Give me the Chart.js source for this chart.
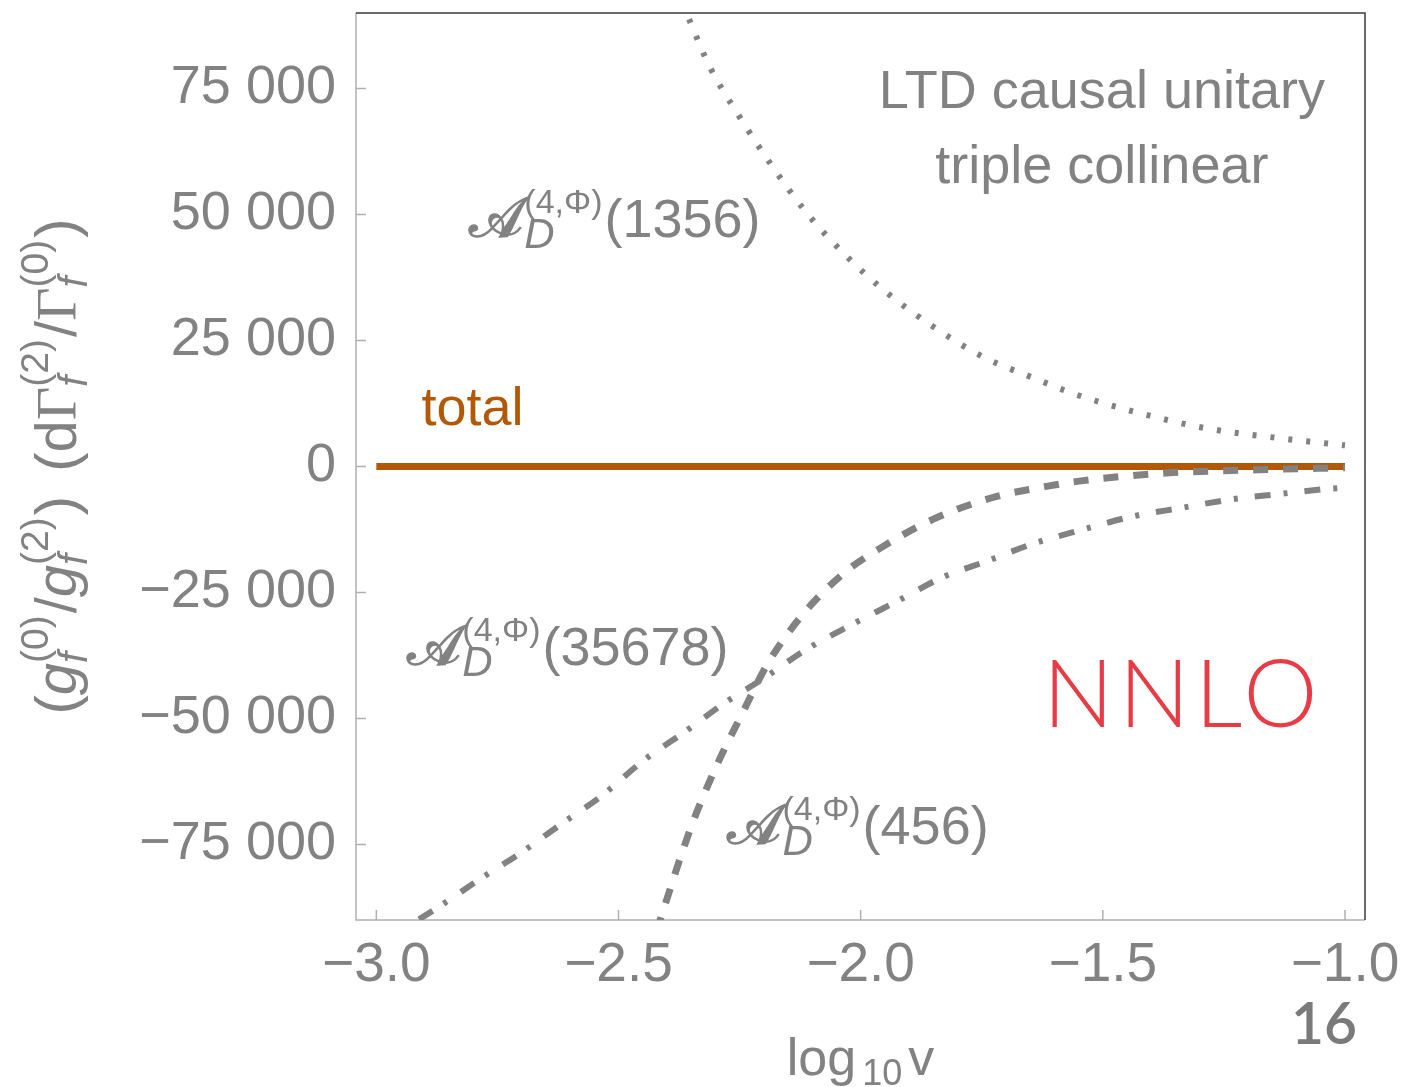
<!DOCTYPE html>
<html>
<head>
<meta charset="utf-8">
<script src="https://cdn.jsdelivr.net/npm/chart.js@4/dist/chart.umd.min.js"></script>
<style>
  html, body { margin: 0; padding: 0; background: #fff; }
  #wrap { width: 1411px; height: 1087px; position: relative; }
</style>
</head>
<body>
<div id="wrap"><canvas id="c"></canvas></div>
<script>
// ---- axis settings ----
const xTicks = [-3.0, -2.5, -2.0, -1.5, -1.0];
const yTicks = [-75000, -50000, -25000, 0, 25000, 50000, 75000];
const xRange = [-3.042, -0.9587];
const yRange = [-90000, 90000];

// ---- series: log10 v and value ----
const totalX = [-3.0, -2.5, -2.0, -1.5, -1.0];
const totalY = [0, 0, 0, 0, 0];

// A_D^(4,Phi)(1356), dotted
const a1356X = [-2.40, -2.36, -2.312, -2.25, -2.182, -2.112, -2.029, -1.946, -1.851, -1.748, -1.636, -1.562, -1.444, -1.293, -1.134, -1.0];
const a1356Y = [98500, 90000, 79400, 69400, 59500, 50400, 41700, 34500, 27800, 21800, 17300, 14500, 11100, 7700, 5600, 4200];

// A_D^(4,Phi)(456), dashed
const a456X = [-2.44, -2.409, -2.35, -2.298, -2.244, -2.19, -2.112, -2.030, -1.961, -1.851, -1.729, -1.62, -1.541, -1.45, -1.355, -1.25, -1.161, -1.0];
const a456Y = [-98000, -88500, -71500, -59500, -48900, -38800, -28500, -20800, -16300, -10500, -6200, -4000, -2800, -1900, -1200, -850, -600, -250];

// A_D^(4,Phi)(35678), dash-dotted
const a35678X = [-3.0, -2.871, -2.785, -2.699, -2.616, -2.534, -2.448, -2.368, -2.285, -2.198, -2.112, -2.017, -1.926, -1.831, -1.740, -1.643, -1.541, -1.438, -1.337, -1.233, -1.130, -1.031, -1.0];
const a35678Y = [-95000, -87400, -81800, -76500, -70800, -65300, -58300, -53000, -47200, -41900, -36300, -31300, -26800, -22000, -18800, -15300, -12500, -9900, -8200, -6500, -5400, -4400, -4200];

const GRAY = '#828282';
const ORANGE = '#b35806';
const RED = '#e63c46';
const SANS = '"Liberation Sans", Arial, Helvetica, sans-serif';
const SERIF = '"Liberation Serif", "Times New Roman", serif';
const MATH = '"DejaVu Serif", "DejaVu Sans", "Noto Sans", serif';

const pts = (xs, ys) => xs.map((x, i) => ({ x, y: ys[i] }));

// ---- rich text helpers (sub/superscripts) ----
function widthOf(ctx, q) {
  ctx.font = q.f;
  ctx.letterSpacing = q.ls || '0px';
  const w = ctx.measureText(q.t).width;
  ctx.letterSpacing = '0px';
  return w;
}
function partWidth(ctx, p) {
  if (p.stack) return Math.max(...p.stack.map(q => widthOf(ctx, q))) + (p.gap || 0);
  return widthOf(ctx, p) + (p.gap || 0);
}
function drawRich(ctx, parts, x, y, align, color) {
  const w = parts.reduce((s, p) => s + partWidth(ctx, p), 0);
  let cx = align === 'center' ? x - w / 2 : align === 'right' ? x - w : x;
  ctx.fillStyle = color;
  ctx.strokeStyle = color;
  ctx.textBaseline = 'alphabetic';
  ctx.textAlign = 'left';
  for (const p of parts) {
    const items = p.stack || [p];
    for (const q of items) {
      ctx.font = q.f;
      ctx.letterSpacing = q.ls || '0px';
      ctx.fillText(q.t, cx, y + (q.dy || 0));
      if (q.bold) { ctx.lineWidth = q.bold; ctx.strokeText(q.t, cx, y + (q.dy || 0)); }
      ctx.letterSpacing = '0px';
    }
    cx += partWidth(ctx, p);
  }
}

function ampLabel(num) {
  return [
    { t: '\u{1D49C}', f: `57px ${MATH}`, gap: 1, bold: 1.6 },
    { stack: [ { t: 'D', f: `italic 42px ${SANS}`, dy: 11 }, { t: '(4,\u03A6)', f: `34px ${SANS}`, dy: -24 } ], gap: 2 },
    { t: '(' + num + ')', f: `54px ${SANS}` }
  ];
}

const mf = `58px ${SANS}`, mi = `italic 58px ${SANS}`, si = `italic 40px ${SANS}`, su = `39px ${SANS}`, gm = `58px ${SERIF}`;
const fs = (top) => ({ stack: [ { t: 'f', f: si, dy: 11 }, { t: top, f: su, dy: -28 } ], gap: 2 });
const yTitle = [
  { t: '(', f: mf }, { t: 'g', f: mi }, fs('(0)'), { t: '/', f: mf }, { t: 'g', f: mi }, fs('(2)'), { t: ')', f: mf },
  { t: ' ', f: mf, gap: 8 },
  { t: '(', f: mf }, { t: 'd', f: mf }, { t: '\u0393', f: gm }, fs('(2)'), { t: '/', f: mf }, { t: '\u0393', f: gm }, fs('(0)'), { t: ')', f: mf }
];
const xTitle = [
  { t: 'log', f: `52px ${SANS}`, gap: 6 }, { t: '10', f: `36px ${SANS}`, dy: 10, gap: 6 }, { t: 'v', f: `52px ${SANS}` }
];

// frame, inward tick marks
const framePlugin = {
  id: 'frame',
  beforeDatasetsDraw(chart) {
    const { ctx, chartArea: a, scales: { x, y } } = chart;
    ctx.save();
    ctx.lineWidth = 1.5;
    ctx.strokeStyle = '#b0b0b0';
    ctx.beginPath();
    ctx.moveTo(a.left, a.top); ctx.lineTo(a.left, a.bottom); ctx.lineTo(a.right, a.bottom);
    for (const v of xTicks) { const px = x.getPixelForValue(v); ctx.moveTo(px, a.bottom); ctx.lineTo(px, a.bottom - 10); }
    for (const v of yTicks) { const py = y.getPixelForValue(v); ctx.moveTo(a.left, py); ctx.lineTo(a.left + 10, py); }
    ctx.stroke();
    ctx.strokeStyle = '#3a3a3a';
    ctx.beginPath();
    ctx.moveTo(a.left, a.top); ctx.lineTo(a.right, a.top); ctx.lineTo(a.right, a.bottom);
    ctx.stroke();
    ctx.restore();
  }
};

// annotations and axis titles
const notesPlugin = {
  id: 'notes',
  afterDraw(chart) {
    const { ctx, chartArea: a, scales: { x, y } } = chart;
    ctx.save();
    drawRich(ctx, [{ t: 'LTD causal unitary', f: `54px ${SANS}` }], x.getPixelForValue(-1.502), y.getPixelForValue(71200), 'center', GRAY);
    drawRich(ctx, [{ t: 'triple collinear', f: `54px ${SANS}` }], x.getPixelForValue(-1.502), y.getPixelForValue(56300), 'center', GRAY);
    drawRich(ctx, [{ t: 'total', f: `54px ${SANS}` }], x.getPixelForValue(-2.907), y.getPixelForValue(8300), 'left', ORANGE);
    drawRich(ctx, ampLabel('1356'), x.getPixelForValue(-2.808), y.getPixelForValue(45600), 'left', GRAY);
    drawRich(ctx, ampLabel('35678'), x.getPixelForValue(-2.936), y.getPixelForValue(-39300), 'left', GRAY);
    drawRich(ctx, ampLabel('456'), x.getPixelForValue(-2.275), y.getPixelForValue(-75000), 'left', GRAY);
    drawRich(ctx, [{ t: 'NNLO', f: `300 94px Lato, ${SANS}`, ls: '5px' }], x.getPixelForValue(-1.335), y.getPixelForValue(-51600), 'center', RED);
    drawRich(ctx, [{ t: '16', f: `600 57px Lato, ${SANS}` }], a.right - 8, a.bottom + 124, 'right', '#7a7a7a');
    drawRich(ctx, xTitle, (a.left + a.right) / 2, a.bottom + 155, 'center', GRAY);
    ctx.translate(76, (a.top + a.bottom) / 2);
    ctx.rotate(-Math.PI / 2);
    drawRich(ctx, yTitle, 0, 0, 'center', GRAY);
    ctx.restore();
  }
};

const common = { pointRadius: 0, fill: false, clip: 0, cubicInterpolationMode: 'monotone', borderCapStyle: 'butt' };

new Chart(document.getElementById('c'), {
  type: 'line',
  data: {
    datasets: [
      { ...common, label: '1356', data: pts(a1356X, a1356Y), borderColor: GRAY, borderWidth: 6, borderDash: [4, 14] },
      { ...common, label: '456', data: pts(a456X, a456Y), borderColor: GRAY, borderWidth: 7, borderDash: [15, 15] },
      { ...common, label: '35678', data: pts(a35678X, a35678Y), borderColor: GRAY, borderWidth: 6, borderDash: [16, 13, 4, 17] },
      { ...common, label: 'total', data: pts(totalX, totalY), borderColor: ORANGE, borderWidth: 7 }
    ]
  },
  options: {
    responsive: true,
    maintainAspectRatio: false,
    animation: false,
    layout: { padding: { top: 13, right: 46, left: 0, bottom: 0 } },
    plugins: { legend: { display: false }, tooltip: { enabled: false } },
    scales: {
      x: {
        type: 'linear', min: xRange[0], max: xRange[1],
        afterBuildTicks: s => { s.ticks = xTicks.map(v => ({ value: v })); },
        afterFit: s => { s.height = 167; s.paddingLeft = 0; s.paddingRight = 0; },
        grid: { display: false, drawTicks: false }, border: { display: false },
        ticks: {
          color: GRAY, padding: 13, font: { family: SANS, size: 55 }, maxRotation: 0,
          callback: v => (v < 0 ? '\u2212' : '') + Math.abs(v).toFixed(1)
        }
      },
      y: {
        type: 'linear', min: yRange[0], max: yRange[1],
        afterBuildTicks: s => { s.ticks = yTicks.map(v => ({ value: v })); },
        afterFit: s => { s.width = 356; s.paddingTop = 0; s.paddingBottom = 0; },
        grid: { display: false, drawTicks: false }, border: { display: false },
        ticks: {
          color: GRAY, padding: 20, font: { family: SANS, size: 54 },
          callback: v => {
            const a = Math.abs(v);
            const s = a >= 1000 ? Math.floor(a / 1000) + ' ' + String(a % 1000).padStart(3, '0') : String(a);
            return (v < 0 ? '\u2212' : '') + s;
          }
        }
      }
    }
  },
  plugins: [framePlugin, notesPlugin]
});
</script>
</body>
</html>
